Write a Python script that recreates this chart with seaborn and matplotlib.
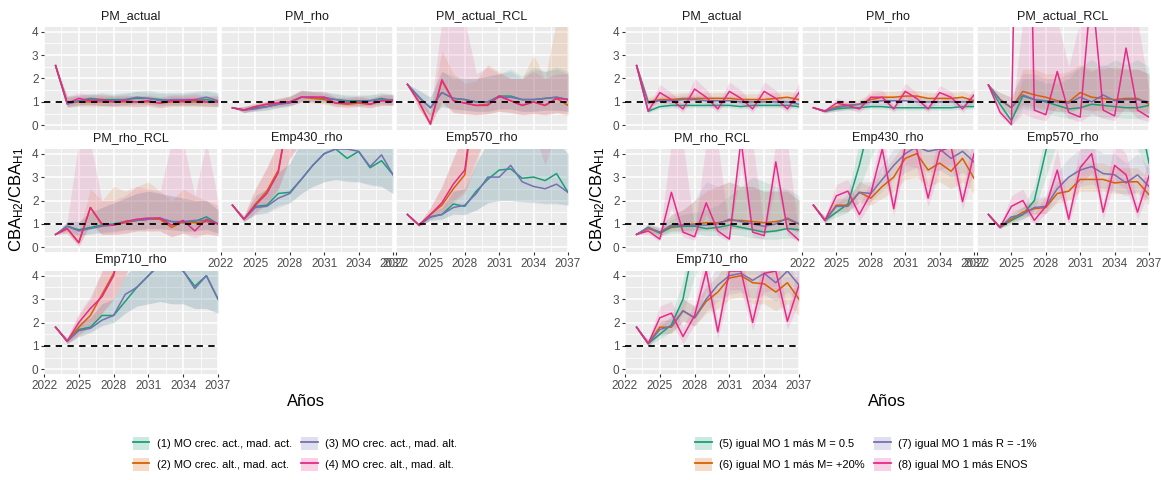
import matplotlib
matplotlib.use("Agg")
import matplotlib.pyplot as plt
import seaborn as sns
import pandas as pd
from matplotlib.patches import Patch
from matplotlib.lines import Line2D

plt.rcParams['font.family'] = ['Liberation Sans', 'DejaVu Sans']
plt.rcParams['mathtext.fontset'] = 'custom'
plt.rcParams['mathtext.rm'] = 'Liberation Sans'
plt.rcParams['mathtext.it'] = 'Liberation Sans:italic'
plt.rcParams['mathtext.bf'] = 'Liberation Sans:bold'

YEARS = list(range(2023, 2038))
FACETS = ["PM_actual", "PM_rho", "PM_actual_RCL", "PM_rho_RCL", "Emp430_rho", "Emp570_rho", "Emp710_rho"]
SERIES_L = ["(1) MO crec. act., mad. act.", "(2) MO crec. alt., mad. act.",
            "(3) MO crec. act., mad. alt.", "(4) MO crec. alt., mad. alt."]
SERIES_R = ["(5) igual MO 1 más M = 0.5", "(6) igual MO 1 más M= +20%",
            "(7) igual MO 1 más R = -1%", "(8) igual MO 1 más ENOS"]
COLORS = ["#1B9E77", "#D95F02", "#7570B3", "#E7298A"]
X_TICKS = [2022, 2025, 2028, 2031, 2034, 2037]
X_MINOR = [2023.5, 2026.5, 2029.5, 2032.5, 2035.5]
Y_TICKS = [0, 1, 2, 3, 4]
Y_MINOR = [0.5, 1.5, 2.5, 3.5]
Y_LABEL = r"CBA$_{\mathrm{H2}}$/CBA$_{\mathrm{H1}}$"
X_LABEL = "Años"

# ---------------- LEFT FIGURE: scenarios (1)-(4) ----------------
L_PM_actual_mid = [
    [2.55, 0.95, 1.05, 1.15, 1.10, 1.10, 1.10, 1.15, 1.15, 1.10, 1.05, 1.05, 1.05, 1.10, 1.00],
    [2.55, 0.95, 1.00, 1.00, 1.00, 1.00, 1.00, 1.00, 1.00, 0.95, 1.00, 1.00, 1.00, 1.00, 1.00],
    [2.55, 0.90, 1.05, 1.10, 1.05, 1.05, 1.10, 1.20, 1.15, 1.05, 1.10, 1.10, 1.10, 1.20, 1.05],
    [2.55, 0.95, 1.15, 1.05, 1.10, 1.00, 1.05, 1.00, 1.05, 0.95, 1.05, 1.05, 1.10, 1.00, 1.00]]
L_PM_actual_lo = [
    [2.55, 0.80, 0.85, 0.90, 0.85, 0.85, 0.85, 0.90, 0.90, 0.85, 0.85, 0.85, 0.85, 0.85, 0.80],
    [2.55, 0.80, 0.80, 0.80, 0.80, 0.80, 0.80, 0.80, 0.80, 0.75, 0.80, 0.80, 0.80, 0.80, 0.80],
    [2.55, 0.75, 0.85, 0.90, 0.85, 0.85, 0.90, 0.95, 0.90, 0.85, 0.90, 0.90, 0.90, 0.95, 0.85],
    [2.55, 0.80, 0.90, 0.85, 0.85, 0.80, 0.85, 0.80, 0.85, 0.75, 0.85, 0.85, 0.85, 0.80, 0.80]]
L_PM_actual_hi = [
    [2.55, 1.25, 1.30, 1.35, 1.40, 1.35, 1.40, 1.45, 1.50, 1.40, 1.40, 1.40, 1.45, 1.50, 1.40],
    [2.55, 1.20, 1.25, 1.25, 1.25, 1.25, 1.25, 1.25, 1.25, 1.20, 1.25, 1.25, 1.25, 1.25, 1.25],
    [2.55, 1.20, 1.30, 1.35, 1.30, 1.30, 1.35, 1.45, 1.40, 1.35, 1.35, 1.35, 1.40, 1.45, 1.35],
    [2.55, 1.25, 1.40, 1.30, 1.35, 1.25, 1.30, 1.25, 1.30, 1.20, 1.30, 1.30, 1.35, 1.25, 1.25]]

L_PM_rho_mid = [
    [0.75, 0.65, 0.75, 0.80, 0.90, 1.00, 1.20, 1.20, 1.15, 1.10, 1.05, 1.05, 1.05, 1.15, 1.05],
    [0.75, 0.65, 0.80, 0.90, 0.95, 1.00, 1.20, 1.15, 1.10, 0.95, 0.90, 0.95, 0.90, 1.05, 1.05],
    [0.75, 0.65, 0.70, 0.80, 0.90, 0.95, 1.20, 1.20, 1.20, 1.10, 1.00, 1.00, 1.05, 1.10, 1.10],
    [0.75, 0.65, 0.80, 0.90, 0.95, 1.00, 1.20, 1.20, 1.20, 0.95, 0.95, 1.00, 0.90, 1.05, 1.05]]
L_PM_rho_lo = [
    [0.75, 0.55, 0.60, 0.65, 0.75, 0.85, 1.00, 1.00, 0.95, 0.90, 0.85, 0.85, 0.85, 0.95, 0.85],
    [0.75, 0.55, 0.65, 0.75, 0.80, 0.85, 1.00, 0.95, 0.90, 0.80, 0.75, 0.80, 0.75, 0.85, 0.85],
    [0.75, 0.55, 0.60, 0.65, 0.75, 0.80, 1.00, 1.00, 1.00, 0.90, 0.85, 0.85, 0.85, 0.90, 0.90],
    [0.75, 0.55, 0.65, 0.75, 0.80, 0.85, 1.00, 1.00, 1.00, 0.80, 0.80, 0.80, 0.75, 0.85, 0.85]]
L_PM_rho_hi = [
    [0.75, 0.80, 0.90, 1.00, 1.10, 1.25, 1.50, 1.45, 1.40, 1.35, 1.30, 1.30, 1.30, 1.40, 1.30],
    [0.75, 0.80, 0.95, 1.05, 1.15, 1.25, 1.45, 1.40, 1.35, 1.20, 1.15, 1.20, 1.15, 1.30, 1.30],
    [0.75, 0.80, 0.85, 1.00, 1.10, 1.20, 1.50, 1.45, 1.45, 1.35, 1.25, 1.25, 1.30, 1.35, 1.35],
    [0.75, 0.80, 0.95, 1.05, 1.15, 1.25, 1.50, 1.45, 1.45, 1.20, 1.20, 1.25, 1.15, 1.30, 1.30]]

L_PM_actual_RCL_mid = [
    [1.75, 1.20, 0.75, 1.40, 1.15, 1.10, 1.00, 1.00, 1.25, 1.25, 1.10, 1.10, 1.15, 1.20, 1.10],
    [1.75, 1.00, 0.05, 1.90, 1.05, 0.95, 0.85, 0.90, 1.25, 1.05, 0.85, 1.00, 0.85, 1.15, 0.85],
    [1.75, 1.20, 0.75, 1.40, 1.15, 1.10, 1.00, 1.00, 1.20, 1.20, 1.10, 1.10, 1.15, 1.20, 1.10],
    [1.75, 1.00, 0.05, 1.95, 1.05, 0.95, 0.85, 0.85, 1.25, 1.05, 0.85, 1.00, 0.85, 1.15, 1.10]]
L_PM_actual_RCL_lo = [
    [1.75, 0.90, 0.40, 0.80, 0.70, 0.65, 0.60, 0.60, 0.70, 0.70, 0.60, 0.60, 0.65, 0.65, 0.60],
    [1.75, 0.70, 0.00, 1.00, 0.55, 0.50, 0.45, 0.50, 0.60, 0.55, 0.45, 0.50, 0.45, 0.55, 0.40],
    [1.75, 0.90, 0.40, 0.80, 0.70, 0.65, 0.60, 0.60, 0.70, 0.70, 0.60, 0.60, 0.65, 0.65, 0.60],
    [1.75, 0.70, 0.00, 1.00, 0.55, 0.50, 0.45, 0.50, 0.60, 0.55, 0.45, 0.50, 0.45, 0.55, 0.50]]
L_PM_actual_RCL_hi = [
    [1.75, 1.50, 1.20, 2.30, 2.10, 2.00, 2.00, 2.10, 2.20, 2.40, 2.10, 2.50, 2.30, 2.50, 2.30],
    [1.75, 1.30, 0.50, 3.20, 2.20, 1.80, 1.90, 2.60, 2.30, 2.00, 2.00, 3.00, 2.00, 4.50, 4.50],
    [1.75, 1.50, 1.20, 2.30, 2.00, 2.00, 2.00, 2.10, 2.20, 2.30, 2.00, 2.40, 2.30, 2.40, 2.20],
    [1.75, 1.30, 0.50, 4.50, 4.50, 4.50, 2.20, 2.50, 2.20, 2.00, 2.00, 2.30, 2.00, 2.20, 2.20]]

L_PM_rho_RCL_mid = [
    [0.55, 0.90, 0.75, 0.85, 0.95, 1.00, 1.10, 1.15, 1.20, 1.20, 1.10, 1.05, 1.10, 1.30, 1.00],
    [0.55, 0.80, 0.20, 1.70, 0.95, 0.95, 1.05, 1.15, 1.20, 1.20, 0.85, 1.10, 1.05, 1.10, 1.00],
    [0.55, 0.90, 0.70, 0.80, 0.90, 0.95, 1.10, 1.15, 1.20, 1.25, 1.10, 1.10, 1.15, 1.15, 1.00],
    [0.55, 0.80, 0.20, 1.70, 1.00, 0.95, 1.10, 1.20, 1.25, 1.25, 0.95, 1.15, 0.70, 1.20, 1.00]]
L_PM_rho_RCL_lo = [
    [0.55, 0.70, 0.50, 0.60, 0.65, 0.70, 0.75, 0.75, 0.80, 0.80, 0.75, 0.70, 0.70, 0.80, 0.60],
    [0.55, 0.60, 0.05, 1.00, 0.55, 0.55, 0.60, 0.70, 0.70, 0.70, 0.45, 0.60, 0.55, 0.55, 0.50],
    [0.55, 0.70, 0.50, 0.55, 0.60, 0.65, 0.75, 0.75, 0.80, 0.80, 0.75, 0.70, 0.70, 0.75, 0.60],
    [0.55, 0.60, 0.05, 1.00, 0.55, 0.55, 0.60, 0.70, 0.70, 0.70, 0.45, 0.60, 0.40, 0.60, 0.50]]
L_PM_rho_RCL_hi = [
    [0.55, 1.10, 1.10, 1.50, 1.70, 1.90, 2.10, 2.30, 2.40, 2.30, 2.20, 2.10, 2.00, 2.00, 1.60],
    [0.55, 1.10, 0.60, 2.50, 2.00, 2.60, 2.40, 2.60, 2.80, 2.40, 2.00, 2.50, 2.20, 2.00, 1.80],
    [0.55, 1.10, 1.10, 1.50, 1.70, 1.90, 2.10, 2.30, 2.40, 2.30, 2.20, 2.10, 2.00, 2.00, 1.60],
    [0.55, 1.10, 4.50, 4.50, 2.00, 2.00, 2.20, 2.60, 2.50, 2.40, 4.50, 4.50, 2.20, 4.50, 2.00]]

L_Emp430_rho_mid = [
    [1.80, 1.20, 1.75, 1.80, 2.30, 2.35, 2.90, 3.50, 4.00, 4.20, 3.80, 4.10, 3.40, 3.70, 3.10],
    [1.80, 1.20, 1.85, 2.40, 3.30, 6.00, 7.00, 7.00, 7.00, 7.00, 7.00, 7.00, 7.00, 7.00, 7.00],
    [1.80, 1.20, 1.70, 1.75, 2.10, 2.30, 2.90, 3.50, 4.00, 4.20, 4.20, 4.10, 3.45, 3.95, 3.10],
    [1.80, 1.20, 1.80, 2.30, 3.20, 6.00, 7.00, 7.00, 7.00, 7.00, 7.00, 7.00, 7.00, 7.00, 7.00]]
L_Emp430_rho_lo = [
    [1.80, 1.10, 1.40, 1.50, 1.80, 1.90, 2.30, 2.60, 2.80, 2.90, 2.80, 2.80, 2.70, 2.60, 2.30],
    [1.80, 1.10, 1.50, 1.90, 2.50, 3.80, 4.50, 5.00, 5.00, 5.00, 5.00, 5.00, 5.00, 5.00, 5.00],
    [1.80, 1.10, 1.40, 1.45, 1.70, 1.90, 2.30, 2.60, 2.80, 2.90, 2.85, 2.80, 2.65, 2.60, 2.30],
    [1.80, 1.10, 1.45, 1.85, 2.50, 3.80, 4.50, 5.00, 5.00, 5.00, 5.00, 5.00, 5.00, 5.00, 5.00]]
L_Emp430_rho_hi = [
    [1.80, 1.30, 2.20, 2.50, 3.20, 3.60, 4.50, 5.00, 5.00, 5.00, 5.00, 5.00, 5.00, 5.00, 5.00],
    [1.80, 1.35, 2.50, 3.40, 4.50, 7.00, 8.00, 8.00, 8.00, 8.00, 8.00, 8.00, 8.00, 8.00, 8.00],
    [1.80, 1.30, 2.20, 2.50, 3.20, 3.60, 4.50, 5.00, 5.00, 5.00, 5.00, 5.00, 5.00, 5.00, 5.00],
    [1.80, 1.35, 2.50, 3.40, 4.50, 7.00, 8.00, 8.00, 8.00, 8.00, 8.00, 8.00, 8.00, 8.00, 8.00]]

L_Emp570_rho_mid = [
    [1.40, 0.95, 1.30, 1.40, 1.85, 1.75, 2.40, 2.90, 3.30, 3.35, 2.95, 3.00, 2.85, 3.15, 2.35],
    [1.40, 0.95, 1.40, 1.80, 2.50, 3.10, 7.00, 7.00, 7.00, 7.00, 7.00, 7.00, 7.00, 7.00, 7.00],
    [1.40, 0.95, 1.30, 1.40, 1.70, 1.80, 2.30, 3.00, 3.00, 3.50, 2.80, 2.60, 2.50, 2.70, 2.35],
    [1.40, 0.95, 1.40, 1.90, 2.70, 3.30, 7.00, 7.00, 7.00, 7.00, 7.00, 7.00, 7.00, 7.00, 7.00]]
L_Emp570_rho_lo = [
    [1.40, 0.90, 1.15, 1.20, 1.45, 1.40, 1.60, 1.90, 2.00, 2.00, 1.95, 1.95, 1.90, 1.90, 1.80],
    [1.40, 0.90, 1.20, 1.45, 1.90, 2.30, 3.60, 5.00, 5.00, 5.00, 5.00, 5.00, 5.00, 5.00, 5.00],
    [1.40, 0.90, 1.15, 1.20, 1.40, 1.40, 1.60, 1.90, 2.00, 2.00, 1.95, 1.90, 1.85, 1.85, 1.80],
    [1.40, 0.90, 1.20, 1.50, 2.00, 2.40, 3.80, 5.00, 5.00, 5.00, 5.00, 5.00, 3.50, 5.00, 5.00]]
L_Emp570_rho_hi = [
    [1.40, 1.00, 1.50, 1.70, 2.40, 2.50, 3.60, 4.50, 5.00, 5.00, 4.50, 4.50, 4.20, 4.50, 4.00],
    [1.40, 1.00, 1.70, 2.60, 3.80, 5.00, 8.00, 8.00, 8.00, 8.00, 8.00, 8.00, 8.00, 8.00, 8.00],
    [1.40, 1.00, 1.50, 1.70, 2.40, 2.50, 3.60, 4.50, 5.00, 5.00, 4.50, 4.50, 4.20, 4.50, 4.00],
    [1.40, 1.00, 1.70, 2.60, 3.80, 5.00, 8.00, 8.00, 8.00, 8.00, 8.00, 8.00, 8.00, 8.00, 8.00]]

L_Emp710_rho_mid = [
    [1.80, 1.20, 1.70, 1.80, 2.30, 2.30, 2.90, 3.50, 4.00, 4.50, 4.50, 4.20, 3.55, 4.00, 3.00],
    [1.80, 1.20, 1.80, 2.30, 3.20, 4.10, 6.00, 7.00, 7.00, 7.00, 7.00, 7.00, 7.00, 7.00, 7.00],
    [1.80, 1.20, 1.65, 1.75, 2.10, 2.30, 3.20, 3.50, 4.00, 4.50, 4.50, 4.20, 3.45, 4.00, 3.00],
    [1.80, 1.20, 2.00, 2.60, 3.10, 4.00, 6.00, 7.00, 7.00, 7.00, 7.00, 7.00, 7.00, 7.00, 7.00]]
L_Emp710_rho_lo = [
    [1.80, 1.10, 1.40, 1.60, 1.90, 2.00, 2.40, 2.70, 2.80, 2.90, 2.80, 2.80, 2.60, 2.60, 2.40],
    [1.80, 1.10, 1.45, 1.80, 2.40, 3.00, 4.00, 5.00, 5.00, 5.00, 5.00, 5.00, 5.00, 5.00, 5.00],
    [1.80, 1.10, 1.40, 1.55, 1.85, 2.00, 2.40, 2.70, 2.80, 2.90, 2.80, 2.80, 2.60, 2.60, 2.40],
    [1.80, 1.10, 1.50, 1.90, 2.40, 3.00, 4.00, 5.00, 5.00, 5.00, 5.00, 5.00, 5.00, 5.00, 5.00]]
L_Emp710_rho_hi = [
    [1.80, 1.30, 2.00, 2.20, 2.80, 3.00, 4.00, 4.50, 5.00, 5.00, 5.00, 5.00, 5.00, 5.00, 5.00],
    [1.80, 1.35, 2.30, 3.00, 4.20, 5.50, 8.00, 8.00, 8.00, 8.00, 8.00, 8.00, 8.00, 8.00, 8.00],
    [1.80, 1.30, 2.00, 2.20, 2.80, 3.00, 4.00, 4.50, 5.00, 5.00, 5.00, 5.00, 5.00, 5.00, 5.00],
    [1.80, 1.35, 2.40, 3.10, 4.20, 5.50, 8.00, 8.00, 8.00, 8.00, 8.00, 8.00, 8.00, 8.00, 8.00]]

# ---------------- RIGHT FIGURE: scenarios (5)-(8) ----------------
R_PM_actual_mid = [
    [2.55, 0.60, 0.80, 0.85, 0.85, 0.85, 0.85, 0.85, 0.85, 0.80, 0.85, 0.85, 0.85, 0.85, 0.80],
    [2.55, 1.00, 1.10, 1.10, 1.15, 1.15, 1.15, 1.15, 1.15, 1.10, 1.10, 1.10, 1.15, 1.20, 1.10],
    [2.55, 0.95, 1.05, 1.05, 1.10, 1.10, 1.05, 1.05, 1.05, 1.00, 1.00, 1.00, 1.00, 1.00, 0.90],
    [2.55, 0.60, 1.40, 1.10, 0.70, 1.55, 1.20, 0.70, 1.45, 1.15, 0.70, 1.45, 1.15, 0.70, 1.40]]
R_PM_actual_lo = [
    [2.55, 0.55, 0.70, 0.75, 0.75, 0.75, 0.75, 0.75, 0.75, 0.70, 0.75, 0.75, 0.75, 0.75, 0.70],
    [2.55, 0.85, 0.95, 0.95, 1.00, 1.00, 1.00, 1.00, 1.00, 0.95, 0.95, 0.95, 1.00, 1.00, 0.95],
    [2.55, 0.80, 0.90, 0.90, 0.95, 0.95, 0.90, 0.90, 0.90, 0.85, 0.85, 0.85, 0.85, 0.85, 0.75],
    [2.55, 0.50, 1.15, 0.90, 0.55, 1.25, 0.95, 0.55, 1.20, 0.90, 0.55, 1.20, 0.90, 0.55, 1.10]]
R_PM_actual_hi = [
    [2.55, 0.70, 0.95, 1.00, 1.00, 1.00, 1.00, 1.00, 1.00, 0.95, 1.00, 1.00, 1.00, 1.00, 0.95],
    [2.55, 1.20, 1.35, 1.35, 1.40, 1.40, 1.40, 1.40, 1.40, 1.35, 1.35, 1.35, 1.40, 1.45, 1.35],
    [2.55, 1.10, 1.25, 1.25, 1.30, 1.30, 1.25, 1.25, 1.25, 1.20, 1.20, 1.20, 1.20, 1.20, 1.10],
    [2.55, 0.75, 1.75, 1.40, 0.90, 2.00, 1.55, 0.90, 1.85, 1.50, 0.90, 1.85, 1.50, 0.90, 1.80]]

R_PM_rho_mid = [
    [0.75, 0.60, 0.70, 0.75, 0.75, 0.80, 0.80, 0.75, 0.75, 0.75, 0.75, 0.75, 0.75, 0.80, 0.80],
    [0.75, 0.60, 0.80, 0.85, 0.90, 1.10, 1.20, 1.20, 1.25, 1.25, 1.15, 1.15, 1.15, 1.20, 1.05],
    [0.75, 0.60, 0.75, 0.85, 0.90, 1.00, 1.05, 1.05, 1.05, 1.00, 1.00, 1.00, 1.00, 1.00, 1.00],
    [0.75, 0.60, 0.95, 0.85, 0.70, 1.20, 1.20, 0.70, 1.45, 1.15, 0.70, 1.40, 1.20, 0.70, 1.30]]
R_PM_rho_lo = [
    [0.75, 0.55, 0.60, 0.65, 0.65, 0.70, 0.70, 0.65, 0.65, 0.65, 0.65, 0.65, 0.65, 0.70, 0.70],
    [0.75, 0.55, 0.65, 0.70, 0.75, 0.95, 1.00, 1.00, 1.05, 1.05, 0.95, 0.95, 0.95, 1.00, 0.90],
    [0.75, 0.55, 0.60, 0.70, 0.75, 0.85, 0.90, 0.90, 0.90, 0.85, 0.85, 0.85, 0.85, 0.85, 0.85],
    [0.75, 0.50, 0.80, 0.70, 0.55, 1.00, 1.00, 0.55, 1.20, 0.95, 0.55, 1.15, 1.00, 0.55, 1.05]]
R_PM_rho_hi = [
    [0.75, 0.70, 0.85, 0.90, 0.90, 0.95, 0.95, 0.90, 0.90, 0.90, 0.90, 0.90, 0.90, 0.95, 0.95],
    [0.75, 0.70, 0.95, 1.05, 1.10, 1.35, 1.45, 1.45, 1.50, 1.50, 1.40, 1.40, 1.40, 1.45, 1.30],
    [0.75, 0.70, 0.90, 1.00, 1.05, 1.20, 1.25, 1.25, 1.25, 1.20, 1.20, 1.20, 1.20, 1.20, 1.20],
    [0.75, 0.70, 1.15, 1.05, 0.85, 1.50, 1.50, 0.85, 1.80, 1.40, 0.85, 1.70, 1.45, 0.85, 1.60]]

R_PM_actual_RCL_mid = [
    [1.72, 0.90, 0.20, 1.25, 1.10, 1.00, 0.85, 0.70, 0.75, 0.90, 0.85, 0.80, 0.75, 0.75, 0.85],
    [1.72, 1.10, 0.75, 1.45, 1.30, 1.20, 1.05, 1.00, 1.40, 1.20, 1.15, 1.10, 1.15, 1.15, 0.90],
    [1.72, 1.10, 0.75, 1.30, 1.10, 1.05, 1.00, 0.95, 1.20, 1.00, 1.30, 1.05, 1.10, 1.10, 1.00],
    [1.72, 0.57, 0.03, 25.0, 0.65, 0.45, 2.30, 0.55, 0.35, 6.00, 0.65, 0.40, 3.30, 0.65, 0.35]]
R_PM_actual_RCL_lo = [
    [1.72, 0.70, 0.05, 0.70, 0.60, 0.50, 0.40, 0.30, 0.35, 0.40, 0.35, 0.35, 0.30, 0.30, 0.35],
    [1.72, 0.85, 0.40, 0.90, 0.80, 0.70, 0.60, 0.60, 0.70, 0.65, 0.60, 0.60, 0.60, 0.60, 0.50],
    [1.72, 0.85, 0.40, 0.80, 0.70, 0.65, 0.60, 0.55, 0.70, 0.60, 0.70, 0.60, 0.60, 0.60, 0.55],
    [1.72, 0.40, 0.00, 0.50, 0.30, 0.20, 0.80, 0.30, 0.15, 0.50, 0.30, 0.20, 0.80, 0.30, 0.15]]
R_PM_actual_RCL_hi = [
    [1.72, 1.20, 0.60, 2.00, 2.00, 1.80, 1.80, 2.00, 2.50, 2.80, 2.50, 2.80, 2.60, 2.80, 2.50],
    [1.72, 1.40, 1.20, 2.40, 2.40, 2.20, 2.20, 2.30, 2.60, 2.40, 2.40, 2.50, 2.40, 2.40, 2.20],
    [1.72, 1.40, 1.20, 2.20, 2.20, 2.00, 2.00, 2.20, 2.50, 2.30, 2.60, 2.40, 2.40, 2.40, 2.20],
    [1.72, 0.80, 0.30, 4.50, 4.50, 4.50, 4.50, 2.50, 4.50, 4.50, 4.50, 4.50, 4.50, 4.50, 1.50]]

R_PM_rho_RCL_mid = [
    [0.55, 0.85, 0.60, 0.85, 0.90, 0.90, 0.80, 0.85, 0.95, 0.85, 0.75, 0.65, 0.70, 0.80, 0.75],
    [0.55, 0.80, 0.65, 0.90, 0.95, 1.00, 1.05, 1.05, 1.15, 1.15, 1.10, 1.05, 1.10, 1.20, 1.00],
    [0.55, 0.85, 0.65, 0.95, 0.95, 0.95, 0.95, 1.00, 1.20, 1.10, 1.00, 0.90, 1.00, 1.25, 1.00],
    [0.55, 0.70, 0.35, 2.35, 0.65, 0.45, 1.90, 0.70, 0.35, 4.60, 0.65, 0.50, 3.65, 0.75, 0.30]]
R_PM_rho_RCL_lo = [
    [0.55, 0.70, 0.45, 0.60, 0.60, 0.60, 0.50, 0.50, 0.55, 0.50, 0.40, 0.35, 0.35, 0.40, 0.35],
    [0.55, 0.65, 0.50, 0.70, 0.70, 0.75, 0.75, 0.75, 0.80, 0.80, 0.75, 0.70, 0.70, 0.80, 0.65],
    [0.55, 0.70, 0.50, 0.70, 0.70, 0.70, 0.70, 0.70, 0.80, 0.75, 0.70, 0.60, 0.65, 0.80, 0.65],
    [0.55, 0.55, 0.25, 1.70, 0.45, 0.30, 1.40, 0.50, 0.25, 3.50, 0.45, 0.35, 2.80, 0.55, 0.20]]
R_PM_rho_RCL_hi = [
    [0.55, 1.00, 0.80, 1.20, 1.40, 1.50, 1.60, 1.80, 2.20, 2.60, 3.00, 2.80, 2.60, 2.50, 2.20],
    [0.55, 0.95, 0.85, 1.40, 1.60, 2.00, 2.40, 2.60, 2.80, 2.60, 2.60, 2.40, 2.40, 2.40, 2.00],
    [0.55, 1.00, 0.85, 1.40, 1.60, 2.00, 2.80, 2.60, 2.80, 2.60, 2.60, 2.40, 2.40, 2.40, 2.00],
    [0.55, 0.90, 0.50, 4.50, 4.50, 0.70, 4.50, 4.50, 0.60, 4.50, 4.50, 0.80, 4.50, 4.50, 0.45]]

R_Emp430_rho_mid = [
    [1.80, 1.15, 1.50, 1.85, 3.50, 5.50, 7.00, 7.00, 7.00, 7.00, 7.00, 7.00, 7.00, 7.00, 7.00],
    [1.80, 1.15, 1.80, 1.80, 2.35, 2.10, 2.60, 3.00, 3.80, 4.00, 3.30, 3.60, 3.25, 3.80, 2.95],
    [1.80, 1.15, 1.75, 1.75, 2.35, 2.30, 2.90, 3.50, 4.00, 4.30, 4.10, 4.20, 3.80, 4.10, 3.65],
    [1.80, 1.15, 2.20, 2.40, 1.40, 2.30, 4.20, 1.65, 4.30, 4.20, 2.10, 4.10, 4.30, 1.95, 4.00]]
R_Emp430_rho_lo = [
    [1.80, 1.05, 1.30, 1.50, 2.50, 3.80, 5.00, 5.00, 5.00, 5.00, 5.00, 5.00, 5.00, 5.00, 5.00],
    [1.80, 1.05, 1.50, 1.55, 1.90, 1.80, 2.10, 2.40, 2.90, 3.00, 2.60, 2.80, 2.50, 2.80, 2.30],
    [1.80, 1.05, 1.45, 1.50, 1.95, 1.95, 2.40, 2.90, 3.20, 3.40, 3.20, 3.30, 3.00, 3.20, 2.90],
    [1.80, 1.05, 1.80, 2.00, 1.10, 1.90, 3.40, 1.35, 3.50, 3.40, 1.75, 3.30, 3.50, 1.60, 3.30]]
R_Emp430_rho_hi = [
    [1.80, 1.30, 1.80, 2.30, 4.50, 7.00, 8.00, 8.00, 8.00, 8.00, 8.00, 8.00, 8.00, 8.00, 8.00],
    [1.80, 1.30, 2.10, 2.10, 2.80, 2.60, 3.20, 3.80, 4.50, 4.80, 4.20, 4.50, 4.10, 4.60, 3.70],
    [1.80, 1.30, 2.05, 2.05, 2.80, 2.80, 3.50, 4.20, 4.80, 5.00, 5.00, 5.00, 4.60, 5.00, 4.50],
    [1.80, 1.30, 2.70, 2.90, 1.80, 2.80, 5.00, 2.10, 5.00, 5.00, 2.60, 5.00, 5.00, 2.40, 5.00]]

R_Emp570_rho_mid = [
    [1.40, 0.85, 1.15, 1.40, 2.00, 4.10, 6.50, 7.00, 7.00, 7.00, 7.00, 7.00, 7.00, 6.00, 3.60],
    [1.40, 0.85, 1.20, 1.50, 1.65, 1.70, 2.30, 2.40, 2.90, 2.90, 2.90, 2.75, 2.80, 2.80, 2.25],
    [1.40, 0.85, 1.30, 1.40, 1.70, 1.75, 2.50, 3.00, 3.30, 3.45, 3.15, 3.10, 2.75, 3.10, 2.60],
    [1.40, 0.85, 1.75, 2.00, 1.15, 1.75, 3.30, 1.20, 3.40, 4.00, 1.50, 3.50, 3.10, 1.50, 3.05]]
R_Emp570_rho_lo = [
    [1.40, 0.80, 1.00, 1.20, 1.60, 3.00, 4.50, 5.00, 5.00, 5.00, 5.00, 5.00, 5.00, 4.20, 3.00],
    [1.40, 0.80, 1.05, 1.30, 1.40, 1.45, 1.90, 2.00, 2.40, 2.40, 2.40, 2.30, 2.30, 2.30, 1.80],
    [1.40, 0.80, 1.10, 1.20, 1.45, 1.45, 2.00, 2.40, 2.60, 2.70, 2.50, 2.40, 2.20, 2.40, 2.00],
    [1.40, 0.80, 1.40, 1.65, 0.95, 1.45, 2.60, 0.95, 2.70, 3.20, 1.20, 2.80, 2.50, 1.20, 2.40]]
R_Emp570_rho_hi = [
    [1.40, 0.95, 1.35, 1.70, 2.60, 5.00, 8.00, 8.00, 8.00, 8.00, 8.00, 8.00, 8.00, 8.00, 4.50],
    [1.40, 0.95, 1.40, 1.75, 2.00, 2.10, 2.80, 3.00, 3.60, 3.60, 3.60, 3.40, 3.40, 3.40, 2.90],
    [1.40, 0.95, 1.55, 1.70, 2.10, 2.20, 3.20, 3.80, 4.20, 4.40, 4.00, 4.00, 3.60, 4.00, 3.40],
    [1.40, 0.95, 2.20, 2.50, 1.45, 2.20, 4.20, 1.55, 4.40, 5.00, 1.90, 4.50, 4.00, 1.90, 3.90]]

R_Emp710_rho_mid = [
    [1.80, 1.10, 1.50, 1.90, 3.00, 5.50, 7.00, 7.00, 7.00, 7.00, 7.00, 7.00, 7.00, 7.00, 7.00],
    [1.80, 1.10, 1.80, 1.80, 2.50, 2.20, 2.90, 3.30, 3.90, 4.00, 3.70, 3.65, 3.30, 3.70, 3.00],
    [1.80, 1.10, 1.70, 1.85, 2.50, 2.20, 3.00, 3.60, 4.00, 4.10, 3.80, 4.10, 3.70, 4.20, 3.60],
    [1.80, 1.10, 2.20, 2.40, 1.40, 2.30, 4.20, 1.60, 4.20, 4.20, 2.00, 4.10, 4.20, 2.05, 3.60]]
R_Emp710_rho_lo = [
    [1.80, 1.00, 1.30, 1.60, 2.40, 4.00, 5.00, 5.00, 5.00, 5.00, 5.00, 5.00, 5.00, 5.00, 5.00],
    [1.80, 1.00, 1.50, 1.55, 2.05, 1.85, 2.40, 2.60, 3.00, 3.10, 2.80, 2.80, 2.50, 2.80, 2.30],
    [1.80, 1.00, 1.45, 1.55, 2.05, 1.85, 2.50, 2.90, 3.20, 3.30, 3.00, 3.20, 2.90, 3.30, 2.90],
    [1.80, 1.00, 1.80, 2.00, 1.10, 1.90, 3.40, 1.30, 3.40, 3.40, 1.65, 3.30, 3.40, 1.70, 2.90]]
R_Emp710_rho_hi = [
    [1.80, 1.25, 1.80, 2.30, 3.80, 7.00, 8.00, 8.00, 8.00, 8.00, 8.00, 8.00, 8.00, 8.00, 8.00],
    [1.80, 1.25, 2.10, 2.10, 3.00, 2.70, 3.50, 4.00, 4.80, 5.00, 4.60, 4.50, 4.10, 4.60, 3.70],
    [1.80, 1.25, 2.00, 2.20, 3.00, 2.70, 3.60, 4.40, 5.00, 5.00, 4.70, 5.00, 4.60, 5.00, 4.40],
    [1.80, 1.25, 2.70, 2.90, 1.80, 2.80, 5.00, 2.00, 5.00, 5.00, 2.50, 5.00, 5.00, 2.50, 4.40]]

LEFT = {
    "PM_actual": (L_PM_actual_mid, L_PM_actual_lo, L_PM_actual_hi),
    "PM_rho": (L_PM_rho_mid, L_PM_rho_lo, L_PM_rho_hi),
    "PM_actual_RCL": (L_PM_actual_RCL_mid, L_PM_actual_RCL_lo, L_PM_actual_RCL_hi),
    "PM_rho_RCL": (L_PM_rho_RCL_mid, L_PM_rho_RCL_lo, L_PM_rho_RCL_hi),
    "Emp430_rho": (L_Emp430_rho_mid, L_Emp430_rho_lo, L_Emp430_rho_hi),
    "Emp570_rho": (L_Emp570_rho_mid, L_Emp570_rho_lo, L_Emp570_rho_hi),
    "Emp710_rho": (L_Emp710_rho_mid, L_Emp710_rho_lo, L_Emp710_rho_hi),
}
RIGHT = {
    "PM_actual": (R_PM_actual_mid, R_PM_actual_lo, R_PM_actual_hi),
    "PM_rho": (R_PM_rho_mid, R_PM_rho_lo, R_PM_rho_hi),
    "PM_actual_RCL": (R_PM_actual_RCL_mid, R_PM_actual_RCL_lo, R_PM_actual_RCL_hi),
    "PM_rho_RCL": (R_PM_rho_RCL_mid, R_PM_rho_RCL_lo, R_PM_rho_RCL_hi),
    "Emp430_rho": (R_Emp430_rho_mid, R_Emp430_rho_lo, R_Emp430_rho_hi),
    "Emp570_rho": (R_Emp570_rho_mid, R_Emp570_rho_lo, R_Emp570_rho_hi),
    "Emp710_rho": (R_Emp710_rho_mid, R_Emp710_rho_lo, R_Emp710_rho_hi),
}

# ---------------- layout (pixels) ----------------
W, H = 1161, 480
fig = plt.figure(figsize=(W / 100, H / 100), dpi=100)
fig.patch.set_facecolor("white")

ROWS = [(27, 130), (149, 252), (271, 374)]
COLS_L = [(44, 218), (221, 393), (396, 568)]
COLS_R = [(625, 799), (802, 974), (977, 1149)]
GRID_POS = [(0, 0), (0, 1), (0, 2), (1, 0), (1, 1), (1, 2), (2, 0)]
BOTTOM = {(2, 0), (1, 1), (1, 2)}

TEXT_COL = "#1A1A1A"
TICK_COL = "#4D4D4D"


def draw_block(data, series, cols, ylab_x, xlab_x, legend_x):
    for name, (r, c) in zip(FACETS, GRID_POS):
        x0, x1 = cols[c]
        y0, y1 = ROWS[r]
        ax = fig.add_axes([x0 / W, 1 - y1 / H, (x1 - x0) / W, (y1 - y0) / H])
        ax.set_facecolor("#EBEBEB")
        mid, lo, hi = data[name]
        for k in range(4):
            ax.fill_between(YEARS, lo[k], hi[k], color=COLORS[k], alpha=0.13, lw=0, zorder=2)
        rows = []
        for k in range(4):
            for yr, v in zip(YEARS, mid[k]):
                rows.append({"year": yr, "value": v, "serie": series[k]})
        df = pd.DataFrame(rows)
        sns.lineplot(data=df, x="year", y="value", hue="serie", hue_order=series,
                     palette=COLORS, ax=ax, legend=False, linewidth=1.1,
                     errorbar=None, zorder=3)
        ax.axhline(1, color="black", lw=1.3, ls=(0, (3.5, 3)), zorder=4)
        ax.set_xlim(2022, 2037)
        ax.set_ylim(-0.2, 4.2)
        ax.set_xticks(X_TICKS)
        ax.set_xticks(X_MINOR, minor=True)
        ax.set_yticks(Y_TICKS)
        ax.set_yticks(Y_MINOR, minor=True)
        ax.grid(which="major", color="white", lw=1.1)
        ax.grid(which="minor", color="white", lw=0.55)
        ax.set_axisbelow(True)
        for s in ax.spines.values():
            s.set_visible(False)
        ax.set_xlabel("")
        ax.set_ylabel("")
        ax.tick_params(which="minor", length=0)
        ax.tick_params(which="major", length=2.5, width=0.8, color="#333333",
                       labelsize=8.5, labelcolor=TICK_COL, pad=1.5)
        show_y = (c == 0)
        show_x = (r, c) in BOTTOM
        ax.tick_params(axis="y", left=show_y, labelleft=show_y)
        ax.tick_params(axis="x", bottom=show_x, labelbottom=show_x)
        fig.text((x0 + x1) / 2 / W, 1 - (y0 - 11) / H, name, ha="center", va="center",
                 fontsize=9, color=TEXT_COL)
    fig.text(ylab_x / W, 1 - 200 / H, Y_LABEL, rotation=90, ha="center", va="center",
             fontsize=12, color="black")
    fig.text(xlab_x / W, 1 - 401 / H, X_LABEL, ha="center", va="center",
             fontsize=12, color="black")
    handles = [(Patch(facecolor=COLORS[k], alpha=0.22, edgecolor="none"),
                Line2D([], [], color=COLORS[k], lw=1.3)) for k in range(4)]
    fig.legend(handles, series, ncol=2, loc="center",
               bbox_to_anchor=(legend_x / W, 1 - 454 / H), frameon=False,
               fontsize=8, handlelength=1.5, handleheight=1.5, handletextpad=0.7,
               columnspacing=0.8, labelspacing=0.7, borderpad=0)


draw_block(LEFT, SERIES_L, COLS_L, 17, 306, 295)
draw_block(RIGHT, SERIES_R, COLS_R, 598, 887, 866)

fig.savefig("out.png", dpi=100)
